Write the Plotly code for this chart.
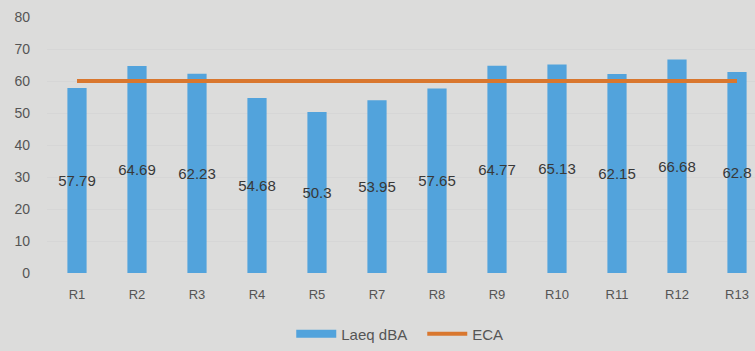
import plotly.graph_objects as go

# Measurement points and equivalent sound levels
sites = ["R1", "R2", "R3", "R4", "R5", "R7", "R8", "R9", "R10", "R11", "R12", "R13"]
laeq_dba = [57.79, 64.69, 62.23, 54.68, 50.3, 53.95, 57.65, 64.77, 65.13, 62.15, 66.68, 62.8]
eca_limit = [60] * len(sites)
y_ticks = [0, 10, 20, 30, 40, 50, 60, 70, 80]

bg = "#dcdcdb"
text_grey = "#555555"
bar_blue = "#52a3dc"

fig = go.Figure()
fig.add_trace(go.Bar(
    x=sites, y=laeq_dba, name="Laeq dBA", showlegend=False,
    marker=dict(color=bar_blue, line=dict(width=0)),
    width=0.32,
    text=[f"{v:g}" for v in laeq_dba],
    textposition="inside", insidetextanchor="middle", textangle=0,
    constraintext="none", cliponaxis=False,
    insidetextfont=dict(color="#383838", size=15, family="Liberation Sans"),
))
# wide rectangular legend key for the bar series
fig.add_trace(go.Scatter(
    x=[None], y=[None], name="Laeq dBA", mode="lines",
    line=dict(color=bar_blue, width=8),
))
fig.add_trace(go.Scatter(
    x=sites, y=eca_limit, name="ECA", mode="lines",
    line=dict(color="#d9772e", width=4),
))

fig.update_layout(
    width=755, height=351,
    margin=dict(l=47, r=0, t=17, b=73),
    paper_bgcolor=bg, plot_bgcolor=bg,
    font=dict(family="Liberation Sans", color=text_grey, size=13),
    showlegend=True,
    legend=dict(orientation="h", x=0.345, xanchor="left", y=-0.238, yanchor="middle",
                bgcolor="rgba(0,0,0,0)", font=dict(size=15, color=text_grey),
                entrywidth=76, entrywidthmode="pixels", itemwidth=40),
    bargap=0.68,
)
fig.update_xaxes(range=[-0.5, 11.3], showgrid=False, zeroline=False, showline=False,
                 ticks="", ticklabelstandoff=12, tickfont=dict(size=13, color=text_grey))
fig.update_yaxes(range=[0, 80], tickvals=y_ticks, showgrid=True, gridcolor="#d6d6d6",
                 gridwidth=1, zeroline=False, showline=False, ticks="",
                 ticklabelstandoff=16, tickfont=dict(size=14, color=text_grey))

fig.write_html("out.html")
